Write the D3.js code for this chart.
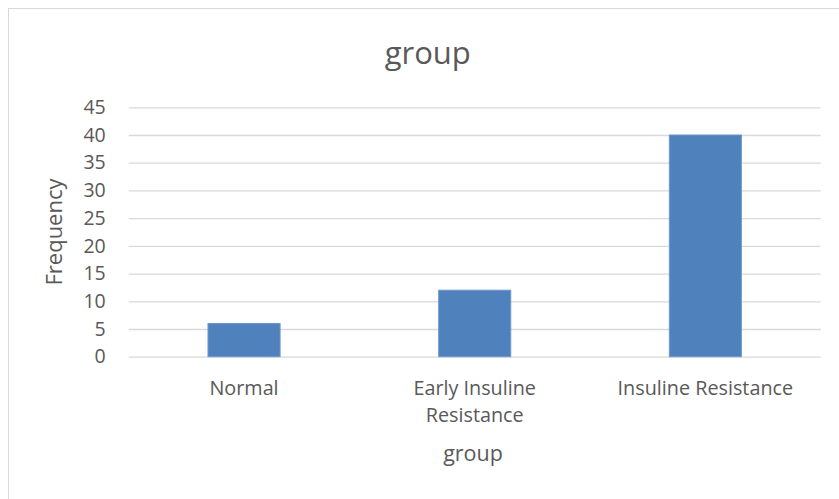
<!DOCTYPE html>
<html>
<head>
<meta charset="utf-8">
<script src="https://cdn.jsdelivr.net/npm/d3@7"></script>
<style>
  html, body { margin: 0; padding: 0; background: #fff; }
  svg { display: block; }
  text { font-family: "Open Sans", "Liberation Sans", sans-serif; fill: #595959; }
</style>
</head>
<body>
<svg id="chart" width="839" height="499"></svg>
<script>
// Frequency counts per group
const categories = ["Normal", "Early Insuline Resistance", "Insuline Resistance"];
const categoryLines = [["Normal"], ["Early Insuline", "Resistance"], ["Insuline Resistance"]];
const frequency = [6, 12, 40];
const yTicks = [0, 5, 10, 15, 20, 25, 30, 35, 40, 45];
const chartTitle = "group";
const xTitle = "group";
const yTitle = "Frequency";

const svg = d3.select("#chart");
const W = 839, H = 499;
const plot = { left: 128.7, right: 820.7, top: 107.3, bottom: 356.7 };

// Outer chart frame (runs past the right and bottom edges)
svg.append("rect")
  .attr("x", 8.5).attr("y", 8.5)
  .attr("width", W + 20).attr("height", H + 20)
  .attr("fill", "#fff").attr("stroke", "#d9d9d9").attr("stroke-width", 1);

const x = d3.scaleBand()
  .domain(categories)
  .range([plot.left, plot.right])
  .paddingInner(0.6875)
  .paddingOuter(0.34375);

const y = d3.scaleLinear()
  .domain([0, 45])
  .range([plot.bottom, plot.top]);

// Horizontal gridlines
const yAxis = d3.axisLeft(y)
  .tickValues(yTicks)
  .tickSize(-(plot.right - plot.left))
  .tickPadding(23)
  .tickFormat(d3.format("d"));

const gy = svg.append("g")
  .attr("transform", `translate(${plot.left},0)`)
  .call(yAxis);
gy.select(".domain").remove();
gy.selectAll(".tick line").attr("stroke", "#d9d9d9").attr("stroke-width", 1.3);
gy.selectAll(".tick text")
  .attr("font-size", 19.5)
  .attr("fill", "#595959")
  .style("font-family", '"Open Sans", sans-serif');

// Bars
svg.append("g").selectAll("rect")
  .data(categories)
  .join("rect")
  .attr("x", d => x(d))
  .attr("width", x.bandwidth())
  .attr("y", (d, i) => y(frequency[i]))
  .attr("height", (d, i) => y(0) - y(frequency[i]))
  .attr("fill", "#4f81bd")
  .attr("stroke", "#6f98cb")
  .attr("stroke-width", 1);

// Category labels (wrapped)
const xl = svg.append("g");
categories.forEach((c, i) => {
  const cx = x(c) + x.bandwidth() / 2;
  categoryLines[i].forEach((line, j) => {
    xl.append("text")
      .attr("x", cx)
      .attr("y", 395 + j * 27)
      .attr("text-anchor", "middle")
      .attr("font-size", 19.8)
      .text(line);
  });
});

// Chart title
svg.append("text")
  .attr("x", (plot.left + plot.right) / 2 - 47)
  .attr("y", 64)
  .attr("text-anchor", "middle")
  .attr("font-size", 31)
  .text(chartTitle);

// Axis titles
svg.append("text")
  .attr("x", 473)
  .attr("y", 461)
  .attr("text-anchor", "middle")
  .attr("font-size", 21.5)
  .text(xTitle);

svg.append("text")
  .attr("transform", `translate(62,${(plot.top + plot.bottom) / 2}) rotate(-90)`)
  .attr("text-anchor", "middle")
  .attr("font-size", 22)
  .text(yTitle);
</script>
</body>
</html>
